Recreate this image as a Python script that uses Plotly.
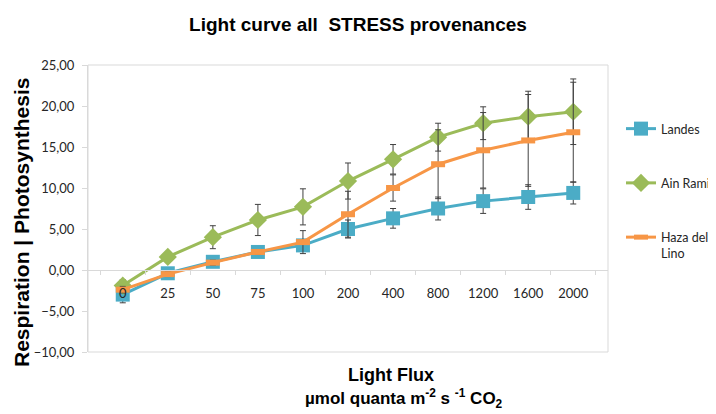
import plotly.graph_objects as go

categories = ["0", "25", "50", "75", "100", "200", "400", "800", "1200", "1600", "2000"]

landes = [-3.0, -0.4, 1.0, 2.2, 3.0, 5.0, 6.3, 7.5, 8.4, 8.9, 9.4]
landes_err = [1.0, 0.3, 0.3, 0.3, 0.3, 1.1, 1.2, 1.4, 1.5, 1.5, 1.35]

ain_rami = [-1.9, 1.6, 4.0, 6.1, 7.7, 10.85, 13.5, 16.2, 17.9, 18.7, 19.3]
ain_rami_err = [0.7, 0.3, 1.4, 1.9, 2.2, 2.2, 1.8, 1.7, 2.0, 3.1, 4.0]

haza = [-2.4, -0.5, 0.9, 2.2, 3.4, 6.8, 10.0, 12.9, 14.6, 15.8, 16.8]
haza_err = [0.4, 0.3, 0.3, 0.3, 1.4, 2.8, 1.6, 4.2, 4.6, 5.6, 6.1]

y_ticks = [-10, -5, 0, 5, 10, 15, 20, 25]

err_style = dict(type="data", visible=True, color="#404040", thickness=1, width=3)

W, H = 708, 406  # page adds an 8px body margin

fig = go.Figure()
fig.add_trace(go.Scatter(
    x=categories, y=landes, name="Landes", mode="lines+markers",
    line=dict(color="#4BACC6", width=3),
    marker=dict(symbol="square", size=14, color="#4BACC6"),
    error_y=dict(array=landes_err, **err_style), legendgroup="a",
))
fig.add_trace(go.Scatter(
    x=categories, y=ain_rami, name="Ain Rami", mode="lines+markers",
    line=dict(color="#9BBB59", width=3),
    marker=dict(symbol="diamond", size=14, color="#9BBB59"),
    error_y=dict(array=ain_rami_err, **err_style), legendgroup="b",
))
fig.add_trace(go.Scatter(
    x=categories, y=haza, name="Haza del<br>Lino", mode="lines+markers",
    line=dict(color="#F79646", width=3),
    marker=dict(symbol="line-ew", size=10, color="#F79646",
                line=dict(color="#F79646", width=6)),
    error_y=dict(array=haza_err, **err_style), legendgroup="c",
))

fig.update_layout(
    width=W, height=H,
    margin=dict(l=80, r=108, t=57, b=62),
    paper_bgcolor="white", plot_bgcolor="white",
    separators=",.",
    showlegend=True,
    legend=dict(
        xref="container", yref="container",
        x=613 / W, y=1 - 106 / H, xanchor="left", yanchor="top",
        font=dict(family="Lato", size=12.5, color="#262626"),
        tracegroupgap=35, valign="top", itemwidth=30,
        bgcolor="rgba(0,0,0,0)",
    ),
    title=dict(
        text="<b>Light curve all\u00a0 STRESS provenances</b>",
        x=350 / W, xanchor="center", xref="container",
        y=1 - 16 / H, yanchor="middle", yref="container",
        font=dict(family="Liberation Sans", size=19, color="black"),
    ),
    xaxis=dict(
        type="category", anchor="free", position=10 / 35,
        showline=True, linecolor="#D9D9D9", linewidth=1,
        ticks="outside", ticklen=4, tickcolor="#D9D9D9", tickson="boundaries",
        showgrid=False, zeroline=False,
        tickfont=dict(family="Lato", size=13, color="#262626"),
        ticklabelstandoff=11,
    ),
    yaxis=dict(
        range=[-10, 25], tickvals=y_ticks, tickformat=".2f",
        showline=True, linecolor="#D9D9D9", linewidth=1,
        ticks="outside", ticklen=5, tickcolor="#D9D9D9",
        showgrid=False, zeroline=False,
        tickfont=dict(family="Lato", size=13, color="#262626"),
        ticklabelstandoff=5,
    ),
    shapes=[dict(type="rect", xref="x domain", yref="y domain",
                 x0=0, x1=1, y0=0, y1=1, line=dict(color="#D9D9D9", width=1),
                 layer="below")],
    annotations=[
        dict(text="<b>Respiration | Photosynthesis</b>", textangle=-90,
             xref="paper", yref="paper", x=-66 / 520, y=(352 - 223) / 287,
             xanchor="center", yanchor="middle", showarrow=False,
             font=dict(family="Liberation Sans", size=21, color="black")),
        dict(text="<b>Light Flux</b>",
             xref="paper", yref="paper", x=(391 - 88) / 520, y=(352 - 375) / 287,
             xanchor="center", yanchor="middle", showarrow=False,
             font=dict(family="Liberation Sans", size=18, color="black")),
        dict(text="<b>µmol quanta m<sup>-2</sup> s <sup>-1</sup> CO<sub>2</sub></b>",
             xref="paper", yref="paper", x=(404 - 88) / 520, y=(352 - 398) / 287,
             xanchor="center", yanchor="middle", showarrow=False,
             font=dict(family="Liberation Sans", size=17, color="black")),
    ],
)

fig.write_html("out.html")
